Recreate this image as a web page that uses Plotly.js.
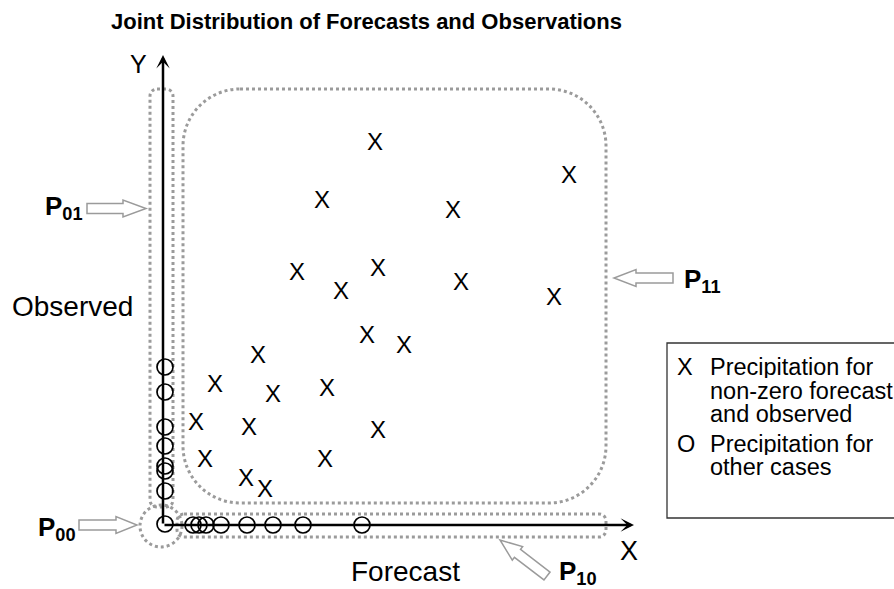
<!DOCTYPE html>
<html><head><meta charset="utf-8">
<script src="https://cdn.plot.ly/plotly-3.0.1.min.js"></script>
<style>html,body{margin:0;padding:0;background:#fff;}#chart{width:894px;height:589px;}</style>
</head><body><div id="chart"></div>
<script>
// ---- data (forecast / observed, arbitrary units) ----
const chartTitle = 'Joint Distribution of Forecasts and Observations';
const xAxisLabel = 'Forecast';
const yAxisLabel = 'Observed';
const crossForecast = [21.2, 40.6, 15.9, 29.0, 13.4, 21.5, 17.8, 29.8, 39.1, 20.4, 24.1, 9.5, 5.2, 11.0, 16.4, 3.3, 8.6, 21.5, 4.2, 16.2, 8.3, 10.2];
const crossObserved = [38.1, 34.8, 32.3, 31.3, 25.1, 25.5, 23.2, 24.1, 22.6, 18.8, 17.8, 16.8, 13.9, 12.9, 13.5, 10.1, 9.6, 9.3, 6.4, 6.4, 4.5, 3.4];
const circleForecast = [0.2, 0.2, 0.2, 0.2, 0.2, 0.2, 0.2, 0.2, 3.0, 3.6, 4.3, 5.8, 8.4, 11.0, 14.0, 19.9];
const circleObserved = [15.8, 13.3, 9.8, 7.9, 5.9, 5.4, 3.4, 0.1, 0, 0, 0, 0, 0, 0, 0, 0];
const legendCrossLines = ['Precipitation for', 'non-zero forecast', 'and observed'];
const legendCircleLines = ['Precipitation for', 'other cases'];
const regionNames = ['00', '01', '10', '11'];

// ---- pixel helpers (layout only) ----
const OX = 163, OY = 525, S = 10;
const dx = p => (p - OX) / S;
const dy = p => (OY - p) / S;
const pt = (x, y) => dx(x).toFixed(3) + ',' + dy(y).toFixed(3);
const FONT = 'Liberation Sans, Arial, Helvetica, sans-serif';

function roundRect(x0, y0, x1, y1, r) {
  const k = 0.5523 * r;
  return 'M' + pt(x0 + r, y0) + ' L' + pt(x1 - r, y0) +
    ' C' + pt(x1 - r + k, y0) + ' ' + pt(x1, y0 + r - k) + ' ' + pt(x1, y0 + r) +
    ' L' + pt(x1, y1 - r) +
    ' C' + pt(x1, y1 - r + k) + ' ' + pt(x1 - r + k, y1) + ' ' + pt(x1 - r, y1) +
    ' L' + pt(x0 + r, y1) +
    ' C' + pt(x0 + r - k, y1) + ' ' + pt(x0, y1 - r + k) + ' ' + pt(x0, y1 - r) +
    ' L' + pt(x0, y0 + r) +
    ' C' + pt(x0, y0 + r - k) + ' ' + pt(x0 + r - k, y0) + ' ' + pt(x0 + r, y0) + ' Z';
}
function blockArrow(tailX, tailY, tipX, tipY, sw, hw, hl) {
  const L = Math.hypot(tipX - tailX, tipY - tailY);
  const ux = (tipX - tailX) / L, uy = (tipY - tailY) / L;
  const nx = -uy, ny = ux;
  const neckX = tipX - ux * hl, neckY = tipY - uy * hl;
  const p = [
    [tailX + nx * sw, tailY + ny * sw], [neckX + nx * sw, neckY + ny * sw], [neckX + nx * hw, neckY + ny * hw],
    [tipX, tipY],
    [neckX - nx * hw, neckY - ny * hw], [neckX - nx * sw, neckY - ny * sw], [tailX - nx * sw, tailY - ny * sw]
  ];
  return 'M' + p.map(q => pt(q[0], q[1])).join(' L') + ' Z';
}

const dotted = {color: '#9b9b9b', width: 3, dash: 'dot'};
const arrowLine = {color: '#9b9b9b', width: 1.5};
const shapes = [
  {type: 'path', xref: 'x', yref: 'y', layer: 'below', path: roundRect(183, 89, 606, 503, 57), line: dotted},
  {type: 'path', xref: 'x', yref: 'y', layer: 'below', path: roundRect(150, 89, 173, 507, 7), line: dotted},
  {type: 'path', xref: 'x', yref: 'y', layer: 'below', path: roundRect(177, 514, 606, 537, 7), line: dotted},
  {type: 'circle', xref: 'x', yref: 'y', layer: 'below', x0: dx(140), x1: dx(182), y0: dy(547), y1: dy(505), line: dotted},
  {type: 'rect', xref: 'x', yref: 'y', x0: dx(667), x1: dx(905), y0: dy(518), y1: dy(343), line: {color: '#333', width: 1.3}},
  {type: 'path', xref: 'x', yref: 'y', path: blockArrow(87, 208.5, 146, 208.5, 5, 8.5, 23), line: arrowLine, fillcolor: '#fff'},
  {type: 'path', xref: 'x', yref: 'y', path: blockArrow(79, 525, 137, 525, 5, 8.5, 21), line: arrowLine, fillcolor: '#fff'},
  {type: 'path', xref: 'x', yref: 'y', path: blockArrow(673, 278, 614, 278, 5, 8.5, 22), line: arrowLine, fillcolor: '#fff'},
  {type: 'path', xref: 'x', yref: 'y', path: blockArrow(547, 576, 500, 540, 5, 8.5, 22), line: arrowLine, fillcolor: '#fff'}
];

function ann(text, px, py, size, xanchor, extra) {
  return Object.assign({
    text: text, xref: 'x', yref: 'y', x: dx(px), y: dy(py), showarrow: false,
    xanchor: xanchor || 'center', yanchor: 'middle',
    font: {family: FONT, size: size, color: '#000'}
  }, extra || {});
}
const sub = s => '<b>P<sub>' + s + '</sub></b>';
const LH = {height: 23, valign: 'middle'};
const annotations = [
  // axes with arrow heads
  {xref: 'x', yref: 'y', axref: 'x', ayref: 'y', x: 0, y: dy(55), ax: 0, ay: 0, text: '', showarrow: true,
   arrowhead: 3, arrowsize: 0.9, arrowwidth: 2.5, arrowcolor: '#000', standoff: 0},
  {xref: 'x', yref: 'y', axref: 'x', ayref: 'y', x: dx(634), y: 0, ax: 0, ay: 0, text: '', showarrow: true,
   arrowhead: 3, arrowsize: 0.9, arrowwidth: 2.5, arrowcolor: '#000', standoff: 0},
  ann('<b>' + chartTitle + '</b>', 366, 21, 22),
  ann('Y', 138, 64, 25),
  ann('X', 629, 551, 27),
  ann(yAxisLabel, 72, 306, 28),
  ann(xAxisLabel, 405, 571, 28),
  ann(sub(regionNames[0]), 36, 528, 26, 'left'),
  ann(sub(regionNames[1]), 43, 207, 26, 'left'),
  ann(sub(regionNames[2]), 557, 572, 26, 'left'),
  ann(sub(regionNames[3]), 682, 280, 26, 'left'),
  ann('X', 685, 366, 23.5, 'center', LH),
  ann(legendCrossLines[0], 708, 366, 23.5, 'left', LH),
  ann(legendCrossLines[1], 708, 390, 23.5, 'left', LH),
  ann(legendCrossLines[2], 708, 413, 23.5, 'left', LH),
  ann('O', 686, 443, 23.5, 'center', LH),
  ann(legendCircleLines[0], 708, 443, 23.5, 'left', LH),
  ann(legendCircleLines[1], 708, 466, 23.5, 'left', LH)
];

const traces = [
  {type: 'scatter', mode: 'text', x: crossForecast, y: crossObserved, text: crossForecast.map(() => 'X'),
   textposition: 'middle center', textfont: {family: FONT, size: 24, color: '#000'},
   name: 'Precipitation for non-zero forecast and observed', hoverinfo: 'skip'},
  {type: 'scatter', mode: 'markers', x: circleForecast, y: circleObserved,
   marker: {symbol: 'circle-open', size: 16, color: '#000', line: {width: 1.7, color: '#000'}},
   name: 'Precipitation for other cases', hoverinfo: 'skip'}
];

const layout = {
  width: 894, height: 589, margin: {l: 0, r: 0, t: 0, b: 0},
  paper_bgcolor: '#fff', plot_bgcolor: '#fff', showlegend: false,
  xaxis: {range: [dx(0), dx(894)], visible: false, fixedrange: true},
  yaxis: {range: [dy(589), dy(0)], visible: false, fixedrange: true},
  shapes: shapes, annotations: annotations, font: {family: FONT}
};
Plotly.newPlot('chart', traces, layout, {staticPlot: true, displayModeBar: false});
</script></body></html>
